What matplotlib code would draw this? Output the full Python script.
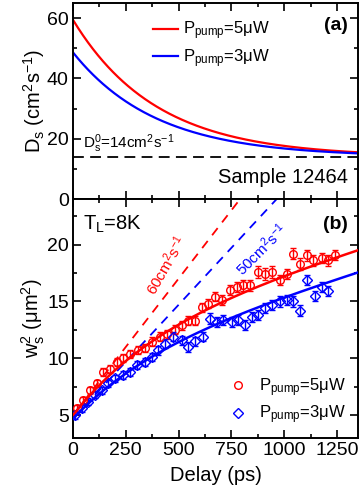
import numpy as np
import matplotlib
matplotlib.use("Agg")
import matplotlib.pyplot as plt
from matplotlib.ticker import MultipleLocator
from matplotlib.lines import Line2D

plt.rcParams["font.family"] = ["Liberation Sans", "DejaVu Sans"]
plt.rcParams["mathtext.fontset"] = "custom"
plt.rcParams["mathtext.rm"] = "Liberation Sans"
plt.rcParams["mathtext.it"] = "Liberation Sans:italic"
plt.rcParams["mathtext.bf"] = "Liberation Sans:bold"

# ---- measured spot widths (panel b) ----
delay_5uw = [17, 49, 80, 112, 144, 175, 207, 238, 270, 309, 341, 373, 412, 444, 483,
             515, 546, 578, 610, 641, 673, 704, 744, 775, 807, 838, 878, 910, 941,
             981, 1012, 1044, 1075, 1107, 1138, 1178, 1210, 1241]
w2_5uw = [5.6, 6.3, 7.2, 7.8, 8.8, 9.1, 9.7, 10.0, 10.4, 10.7, 10.9, 11.45, 11.9, 12.1, 12.5,
          12.9, 13.3, 13.3, 14.5, 14.8, 15.4, 15.15, 16.0, 16.3, 16.4, 16.4, 17.6, 17.4, 17.6,
          16.9, 17.4, 19.2, 18.3, 19.05, 18.6, 18.8, 18.6, 19.05]
err_5uw = [0.3, 0.3, 0.3, 0.3, 0.35, 0.35, 0.35, 0.35, 0.35, 0.35, 0.35, 0.4, 0.4, 0.4, 0.4,
           0.4, 0.4, 0.4, 0.4, 0.4, 0.4, 0.45, 0.45, 0.45, 0.45, 0.45, 0.5, 0.5, 0.5,
           0.45, 0.45, 0.5, 0.5, 0.5, 0.45, 0.45, 0.45, 0.45]

delay_3uw = [9, 41, 72, 104, 136, 167, 199, 238, 270, 302, 341, 373, 404, 436, 475,
             515, 546, 578, 614, 649, 681, 712, 752, 783, 815, 846, 878, 910, 941,
             981, 1012, 1044, 1075, 1107, 1146, 1178, 1210]
w2_3uw = [5.0, 5.6, 6.2, 6.8, 7.2, 7.8, 8.25, 8.5, 8.8, 9.4, 9.7, 10.1, 10.7, 11.3, 11.9,
          11.6, 11.0, 11.5, 11.9, 13.5, 13.2, 13.35, 13.2, 13.35, 12.9, 13.6, 13.8, 14.4, 14.7,
          15.0, 15.1, 15.0, 14.2, 16.9, 15.5, 16.3, 15.9]
err_3uw = [0.3, 0.3, 0.3, 0.3, 0.3, 0.3, 0.3, 0.35, 0.35, 0.35, 0.35, 0.35, 0.4, 0.4, 0.4,
           0.4, 0.4, 0.4, 0.4, 0.45, 0.45, 0.45, 0.45, 0.45, 0.45, 0.45, 0.45, 0.45, 0.45,
           0.45, 0.45, 0.45, 0.45, 0.45, 0.45, 0.45, 0.45]

# ---- diffusion model parameters ----
pump_labels = ["5μW", "3μW"]
colors = ["#ff0000", "#0000ff"]
D0 = 14.0                    # cm^2/s, long-delay diffusion coefficient
D_start = [59.4, 48.6]       # cm^2/s at zero delay
tau = 395.0                  # ps, hot-carrier relaxation time
w0_sq = [5.0, 4.7]           # um^2, initial spot size
D_ref = [60, 50]             # cm^2/s, constant-D reference lines
CONV = 1e-4                  # (cm^2/s)*ps -> um^2

t = np.linspace(0, 1350, 400)

fig = plt.figure(figsize=(3.6, 4.93), dpi=100)
L, R = 73 / 360, 358 / 360
ya_top, ya_bot, yb_bot = 1 - 3 / 493, 1 - 199 / 493, 1 - 438 / 493
ax_a = fig.add_axes([L, ya_bot, R - L, ya_top - ya_bot])
ax_b = fig.add_axes([L, yb_bot, R - L, ya_bot - yb_bot], sharex=ax_a)

FS = 14
for ax in (ax_a, ax_b):
    ax.tick_params(which="both", direction="in", top=True, right=True, width=1.2,
                   labelsize=FS, pad=3)
    ax.tick_params(which="major", length=5.5)
    ax.tick_params(which="minor", length=3)
    for s in ax.spines.values():
        s.set_linewidth(1.4)
    ax.xaxis.set_major_locator(MultipleLocator(250))
    ax.xaxis.set_minor_locator(MultipleLocator(125))
ax_a.tick_params(labelbottom=False)

# ---- panel (a): D_s(t) ----
for i in range(2):
    D = D0 + (D_start[i] - D0) * np.exp(-t / tau)
    ax_a.plot(t, D, color=colors[i], lw=1.6,
              label=r"$\mathregular{P_{pump}}$=" + pump_labels[i])
ax_a.axhline(D0, color="black", lw=1.3, ls=(0, (6, 3.5)))
ax_a.set_xlim(0, 1350)
ax_a.set_ylim(0, 65)
ax_a.yaxis.set_major_locator(MultipleLocator(20))
ax_a.yaxis.set_minor_locator(MultipleLocator(10))
ax_a.set_ylabel(r"$\mathregular{D_s}$ $\mathregular{(cm^2s^{-1})}$", fontsize=FS + 0.5, labelpad=0)
ax_a.legend(loc="upper left", bbox_to_anchor=(0.24, 0.975), frameon=False, fontsize=12,
            handlelength=1.5, handletextpad=0.3, labelspacing=0.3, borderaxespad=0.3)
ax_a.text(0.035, D0 + 4.5, r"$\mathregular{D_s^0}$=14$\mathregular{cm^2s^{-1}}$",
          transform=ax_a.get_yaxis_transform(), fontsize=11, va="center")
ax_a.text(0.965, 0.11, "Sample 12464", transform=ax_a.transAxes, fontsize=14.5,
          ha="right", va="center")
ax_a.text(0.965, 0.885, "(a)", transform=ax_a.transAxes, fontsize=14,
          fontweight="bold", ha="right", va="center")

# ---- panel (b): w_s^2(t) ----
delays = [delay_5uw, delay_3uw]
w2 = [w2_5uw, w2_3uw]
errs = [err_5uw, err_3uw]
markers = ["o", "D"]
msizes = [5.5, 5.0]
handles = []
for i in range(2):
    ax_b.errorbar(delays[i], w2[i], yerr=errs[i], fmt=markers[i], mfc="none",
                  mec=colors[i], ecolor=colors[i], ms=msizes[i], mew=1.0,
                  elinewidth=1.0, capsize=2.5, capthick=1.0, zorder=3)
    handles.append(Line2D([], [], ls="none", marker=markers[i], mfc="none",
                          mec=colors[i], ms=msizes[i], mew=1.0,
                          label=r"$\mathregular{P_{pump}}$=" + pump_labels[i]))
    integ = D0 * t + (D_start[i] - D0) * tau * (1 - np.exp(-t / tau))
    ax_b.plot(t, w0_sq[i] + 4 * integ * CONV, color=colors[i], lw=1.8, zorder=4)
    ax_b.plot(t, w0_sq[i] + 4 * D_ref[i] * t * CONV, color=colors[i], lw=1.3,
              ls=(0, (5, 4)), zorder=2)

ax_b.set_ylim(3, 24)
ax_b.yaxis.set_minor_locator(MultipleLocator(2.5))
ax_b.set_yticks([5, 10, 15, 20])
ax_b.set_ylabel(r"$\mathregular{w_s^2}$ $\mathregular{(\mu m^2)}$", fontsize=FS + 0.5, labelpad=0)
ax_b.set_xlabel("Delay (ps)", fontsize=FS + 0.5, labelpad=5)
ax_b.legend(handles=handles, loc="lower right", frameon=False, fontsize=12,
            handlelength=1.0, handletextpad=0.8, labelspacing=0.3, borderaxespad=0.3)
ax_b.text(0.035, 0.895, r"$\mathregular{T_L}$=8K", transform=ax_b.transAxes,
          fontsize=14.5, va="center")
ax_b.text(0.965, 0.895, "(b)", transform=ax_b.transAxes, fontsize=14,
          fontweight="bold", ha="right", va="center")
ax_b.text(440, 18.2, r"60$\mathregular{cm^2s^{-1}}$", color=colors[0], fontsize=11,
          rotation=60, ha="center", va="center")
ax_b.text(895, 19.6, r"50$\mathregular{cm^2s^{-1}}$", color=colors[1], fontsize=11,
          rotation=45, ha="center", va="center")

fig.savefig("out.png", dpi=100)
